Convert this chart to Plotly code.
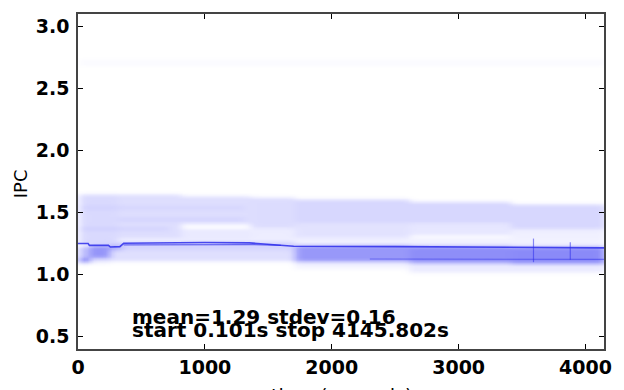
import numpy as np
import plotly.graph_objects as go

T_MAX = 4145.802

# ---- density bands (start s, end s, IPC low, IPC high, relative density)
band_t0 = [0, 300, 800, 800, 1350, 1350, 1700, 1700, 2600, 2600, 3400, 3400, 300, 0, 0, 1700,
           0, 0, 80, 80, 240, 240, 330, 0, 1700, 2600, 3400, 1700, 2600, 0]
band_t1 = [300, 800, 1350, 1350, 1700, 1700, 2600, 2600, 3400, 3400, 4146, 4146, 1300, 1300, 700, 4146,
           80, 80, 240, 240, 330, 1700, 1700, 1700, 2600, 3400, 4146, 2600, 4146, 4146]
band_lo = [1.27, 1.29, 1.41, 1.28, 1.38, 1.28, 1.42, 1.30, 1.42, 1.32, 1.37, 1.30, 1.435, 1.53, 1.36, 1.235,
           1.10, 1.135, 1.135, 1.10, 1.20, 1.11, 1.20, 1.245, 1.105, 1.095, 1.09, 1.05, 1.02, 2.69]
band_hi = [1.645, 1.645, 1.63, 1.37, 1.62, 1.38, 1.605, 1.42, 1.585, 1.42, 1.565, 1.37, 1.455, 1.55, 1.38, 1.30,
           1.135, 1.225, 1.235, 1.135, 1.24, 1.20, 1.245, 1.27, 1.235, 1.23, 1.225, 1.105, 1.095, 2.73]
band_d = [0.24, 0.21, 0.21, 0.13, 0.22, 0.11, 0.26, 0.18, 0.26, 0.15, 0.26, 0.09, 0.10, 0.08, 0.10, 0.08,
          0.85, 0.45, 0.70, 0.18, 0.60, 0.20, 0.28, 0.28, 0.68, 0.74, 0.76, 0.07, 0.12, 0.03]

# ---- dense core lines
core_t = [0, 80, 90, 240, 255, 330, 360, 700, 1000, 1350, 1500, 1700, 2500, 3300, 4146]
core_y = [1.25, 1.25, 1.235, 1.235, 1.222, 1.225, 1.252, 1.258, 1.258, 1.255, 1.245, 1.228, 1.225, 1.218, 1.215]
core2_t = [360, 1350, 1600]
core2_y = [1.24, 1.242, 1.235]
low_t = [2300, 4146]
low_y = [1.125, 1.122]
stripe_t = [3590, 3880]
stripe_lo = [1.10, 1.12]
stripe_hi = [1.29, 1.26]

mean_txt = "mean=1.29 stdev=0.16"
span_txt = "start 0.101s stop 4145.802s"
x_ticks = [0, 1000, 2000, 3000, 4000]
y_ticks = [0.5, 1.0, 1.5, 2.0, 2.5, 3.0]

# ---- rasterise bands into a density grid (slightly softened edges)
dt, dy = 20.0, 0.005
t_edges = np.arange(0, T_MAX + dt, dt)
y_edges = np.arange(0.9, 2.82, dy)
tc = (t_edges[:-1] + t_edges[1:]) / 2
yc = (y_edges[:-1] + y_edges[1:]) / 2
z = np.zeros((len(yc), len(tc)))
for a, b, lo, hi, d in zip(band_t0, band_t1, band_lo, band_hi, band_d):
    ct = np.clip(np.minimum(t_edges[1:], b) - np.maximum(t_edges[:-1], a), 0, None) / dt
    cy = np.clip(np.minimum(y_edges[1:], hi) - np.maximum(y_edges[:-1], lo), 0, None) / dy
    z += d * np.outer(cy, ct)


def kernel(sig_cells):
    k = np.exp(-0.5 * (np.arange(-3 * sig_cells, 3 * sig_cells + 1) / sig_cells) ** 2)
    return k / k.sum()


ky, kt = kernel(3), kernel(1.5)
z = np.apply_along_axis(lambda c: np.convolve(c, ky, mode="same"), 0, z)
z = np.apply_along_axis(lambda r: np.convolve(r, kt, mode="same"), 1, z)

fig = go.Figure()
fig.add_trace(go.Heatmap(
    x=tc, y=yc, z=z, zmin=0, zmax=1, zsmooth="best", showscale=False, hoverinfo="skip",
    colorscale=[[0, "rgb(255,255,255)"], [0.1, "rgb(238,238,255)"], [0.25, "rgb(216,216,254)"],
                [0.5, "rgb(182,182,252)"], [0.75, "rgb(140,140,248)"], [1, "rgb(100,100,240)"]]))

fig.add_trace(go.Scatter(x=core_t, y=core_y, mode="lines",
                         line=dict(color="rgba(45,45,235,0.85)", width=1.6), hoverinfo="skip"))
fig.add_trace(go.Scatter(x=core2_t, y=core2_y, mode="lines",
                         line=dict(color="rgba(45,45,235,0.65)", width=1.3), hoverinfo="skip"))
fig.add_trace(go.Scatter(x=low_t, y=low_y, mode="lines",
                         line=dict(color="rgba(45,45,235,0.5)", width=1.1), hoverinfo="skip"))
for st, lo, hi in zip(stripe_t, stripe_lo, stripe_hi):
    fig.add_trace(go.Scatter(x=[st, st], y=[lo, hi], mode="lines",
                             line=dict(color="rgba(45,45,235,0.55)", width=1.2), hoverinfo="skip"))

bold = dict(family="DejaVu Sans", size=19, color="black", weight="bold")
bold_txt = dict(family="DejaVu Sans", size=20, color="black", weight="bold")
axis_common = dict(showgrid=False, zeroline=False, showline=True, linecolor="#444", linewidth=1.5,
                   mirror="ticks", ticks="inside", ticklen=5, tickwidth=1.2, tickcolor="black",
                   tickfont=bold)
fig.update_xaxes(range=[0, T_MAX], tickvals=x_ticks, ticktext=[str(v) for v in x_ticks], **axis_common)
fig.update_yaxes(range=[0.4, 3.1], tickvals=y_ticks, ticktext=[f"{v:.1f}" for v in y_ticks],
                 ticklabelstandoff=3, **axis_common)

fig.add_annotation(x=410, y=0.66, xref="x", yref="y", text=mean_txt, showarrow=False,
                   xanchor="left", yanchor="middle", font=bold_txt)
fig.add_annotation(x=410, y=0.55, xref="x", yref="y", text=span_txt, showarrow=False,
                   xanchor="left", yanchor="middle", font=bold_txt)
fig.add_annotation(x=(21 - 78) / 529, y=(356 - 187) / 343, xref="paper", yref="paper", text="IPC",
                   showarrow=False, textangle=-90, xanchor="center", yanchor="middle",
                   font=dict(family="DejaVu Sans", size=18, color="black"))
fig.add_annotation(x=0.5, y=(356 - 391) / 343, xref="paper", yref="paper", text="time (seconds)",
                   showarrow=False, xanchor="center", yanchor="top",
                   font=dict(family="DejaVu Sans", size=19, color="black"))

fig.update_layout(width=624, height=390, margin=dict(l=78, r=17, t=13, b=34),
                  paper_bgcolor="white", plot_bgcolor="white", showlegend=False)
fig.write_html("out.html")
